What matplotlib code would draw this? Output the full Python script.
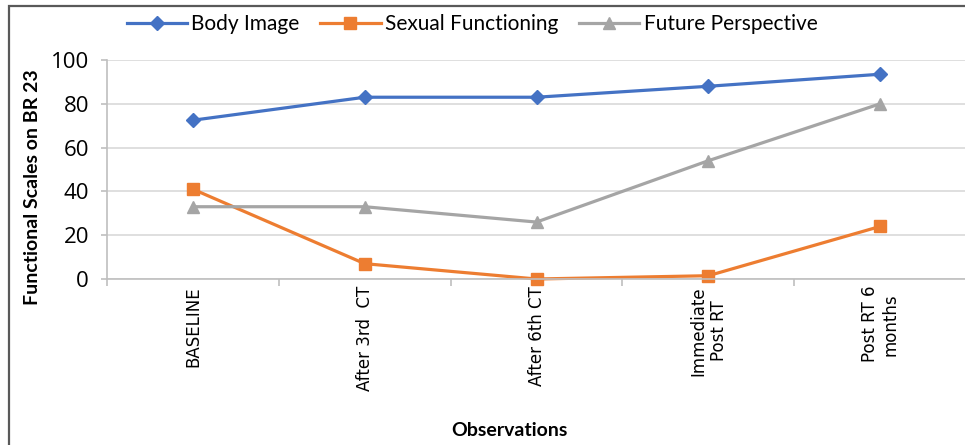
import matplotlib
matplotlib.use("Agg")
import matplotlib.pyplot as plt
from matplotlib.patches import Rectangle

# 数据
observations = ["BASELINE", "After 3rd  CT", "After 6th CT", "Immediate\nPost RT", "Post RT 6\nmonths"]
body_image = [72.5, 83, 83, 88, 93.5]
sexual_functioning = [41, 7, 0, 1.5, 24]
future_perspective = [33, 33, 26, 54, 80]

W, H = 965, 445
fig = plt.figure(figsize=(W / 100, H / 100), dpi=100)

# 外边框
fig.patches.append(Rectangle((9 / W, -0.1), 1.2, 1 - 6 / H + 0.1, transform=fig.transFigure,
                             fill=False, edgecolor="#595959", linewidth=1.6))

left, right, top, bottom = 107, 966, 60, 279
ax = fig.add_axes([left / W, 1 - bottom / H, (right - left) / W, (bottom - top) / H])

x = list(range(len(observations)))
ax.plot(x, body_image, color="#4472C4", lw=2.3, marker="D", ms=7.5, label="Body Image", clip_on=False)
ax.plot(x, sexual_functioning, color="#ED7D31", lw=2.3, marker="s", ms=8.5, label="Sexual Functioning",
        clip_on=False)
ax.plot(x, future_perspective, color="#A5A5A5", lw=2.3, marker="^", ms=9, label="Future Perspective",
        clip_on=False)

ax.set_xlim(-0.5, len(observations) - 0.5)
ax.set_ylim(0, 100)
ax.set_yticks(range(0, 101, 20))
ax.yaxis.grid(True, color="#D9D9D9", lw=1.2)
ax.set_axisbelow(True)

for s in ["top", "right"]:
    ax.spines[s].set_visible(False)
for s in ["left", "bottom"]:
    ax.spines[s].set_color("#BFBFBF")
    ax.spines[s].set_linewidth(1.2)

ax.set_xticks(x)
ax.set_xticklabels(observations, rotation=90, va="top", ha="center",
                   fontfamily="DejaVu Sans", fontsize=12)
ax.set_xticks([i + 0.5 for i in range(-1, len(observations))], minor=True)
ax.tick_params(axis="x", which="major", length=0, pad=5)
ax.tick_params(axis="x", which="minor", length=5, color="#BFBFBF", width=1.2)
ax.tick_params(axis="y", length=4, color="#BFBFBF", width=1.2, pad=9)
for t in ax.get_yticklabels():
    t.set_fontfamily("Open Sans")
    t.set_fontsize(16)

ax.set_ylabel("Functional Scales on BR 23", fontfamily="Lato", fontweight="bold", fontsize=14)
ax.yaxis.set_label_coords(-0.077, 0.42)
ax.set_xlabel("Observations", fontfamily="Lato", fontweight="bold", fontsize=14)
ax.xaxis.set_label_coords(0.469, -0.655)

ax.legend(loc="center", bbox_to_anchor=(472 / W, 1 - 24 / H), bbox_transform=fig.transFigure,
          ncol=3, frameon=False, prop={"family": "Lato", "size": 15},
          handlelength=2.9, handletextpad=0.2, columnspacing=1.0)

fig.savefig("out.png", dpi=100)
